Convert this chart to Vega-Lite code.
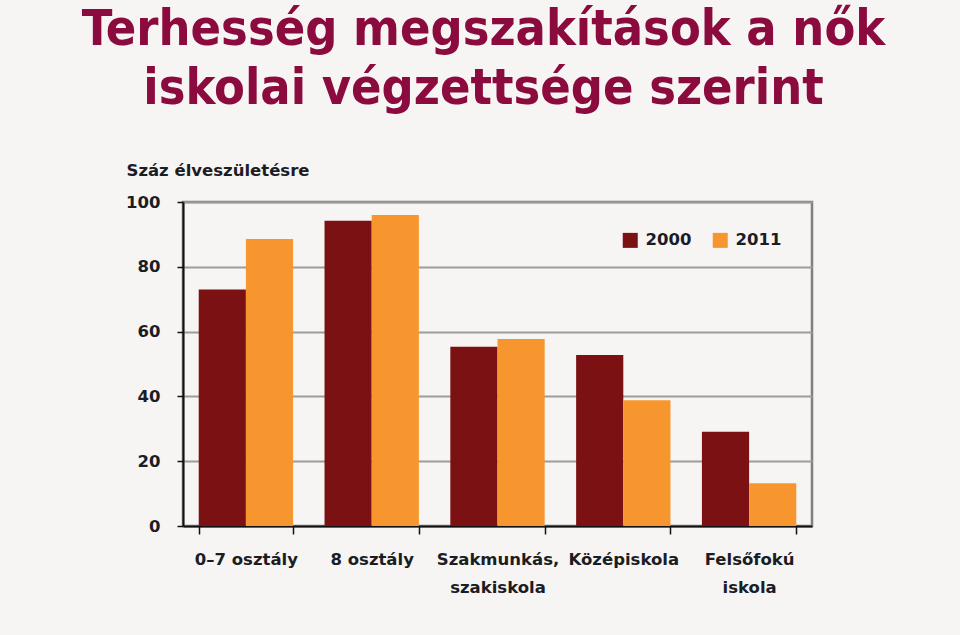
{
  "$schema": "https://vega.github.io/schema/vega-lite/v6.json",
  "width": 629,
  "height": 324,
  "autosize": {"type": "none"},
  "padding": {"left": 183, "top": 202, "right": 148, "bottom": 109},
  "background": "#f6f5f3",
  "title": {
    "text": ["Terhesség megszakítások a nők", "iskolai végzettsége szerint"],
    "font": "DejaVu Sans Condensed",
    "fontWeight": "bold",
    "fontSize": 50,
    "lineHeight": 59,
    "color": "#8c0b3e",
    "anchor": "middle",
    "dx": -14,
    "offset": 48
  },
  "config": {
    "view": {"stroke": "#808080", "strokeWidth": 2.5},
    "font": "DejaVu Sans",
    "axis": {
      "labelFont": "DejaVu Sans",
      "labelFontWeight": "bold",
      "labelFontSize": 16.5,
      "labelColor": "#1c1c24",
      "titleFont": "DejaVu Sans",
      "titleFontWeight": "bold",
      "titleFontSize": 16.5,
      "titleColor": "#1c1c24"
    },
    "legend": {
      "labelFont": "DejaVu Sans",
      "labelFontWeight": "bold",
      "labelFontSize": 16.5,
      "labelColor": "#1c1c24"
    }
  },
  "data": {
    "values": [
      {"category": "0–7 osztály", "year": "2000", "value": 73},
      {"category": "0–7 osztály", "year": "2011", "value": 88.6},
      {"category": "8 osztály", "year": "2000", "value": 94.2},
      {"category": "8 osztály", "year": "2011", "value": 96},
      {"category": "Szakmunkás, szakiskola", "year": "2000", "value": 55.3},
      {"category": "Szakmunkás, szakiskola", "year": "2011", "value": 57.7},
      {"category": "Középiskola", "year": "2000", "value": 52.8},
      {"category": "Középiskola", "year": "2011", "value": 38.8},
      {"category": "Felsőfokú iskola", "year": "2000", "value": 29.1},
      {"category": "Felsőfokú iskola", "year": "2011", "value": 13.2}
    ]
  },
  "mark": {"type": "bar"},
  "encoding": {
    "x": {
      "field": "category",
      "type": "nominal",
      "sort": ["0–7 osztály", "8 osztály", "Szakmunkás, szakiskola", "Középiskola", "Felsőfokú iskola"],
      "scale": {"paddingInner": 0.25, "paddingOuter": 0.125},
      "axis": {
        "title": null,
        "labelAngle": 0,
        "tickBand": "extent",
        "tickColor": "#111",
        "tickSize": 8,
        "tickWidth": 1.5,
        "domainColor": "#111",
        "domainWidth": 2,
        "labelPadding": 17,
        "labelLineHeight": 28,
        "labelExpr": "datum.label == 'Szakmunkás, szakiskola' ? ['Szakmunkás,', 'szakiskola'] : datum.label == 'Felsőfokú iskola' ? ['Felsőfokú', 'iskola'] : datum.label"
      }
    },
    "xOffset": {
      "field": "year",
      "type": "nominal",
      "scale": {"paddingInner": 0, "paddingOuter": 0}
    },
    "y": {
      "field": "value",
      "type": "quantitative",
      "scale": {"domain": [0, 100]},
      "axis": {
        "title": "Száz élveszületésre",
        "titleAngle": 0,
        "titleAlign": "left",
        "titleBaseline": "middle",
        "titleX": -57,
        "titleY": -32,
        "values": [0, 20, 40, 60, 80, 100],
        "grid": true,
        "gridColor": "#9c9c9c",
        "gridWidth": 2,
        "domainColor": "#111",
        "domainWidth": 2,
        "tickColor": "#111",
        "tickSize": 6,
        "tickWidth": 1.5,
        "labelPadding": 17
      }
    },
    "color": {
      "field": "year",
      "type": "nominal",
      "scale": {"domain": ["2000", "2011"], "range": ["#7b1113", "#f7962e"]},
      "legend": {
        "title": null,
        "orient": "top-right",
        "direction": "horizontal",
        "offset": 30,
        "symbolType": "square",
        "symbolSize": 225,
        "symbolStrokeWidth": 0,
        "symbolOpacity": 1,
        "columnPadding": 20,
        "labelOffset": 7
      }
    }
  }
}
